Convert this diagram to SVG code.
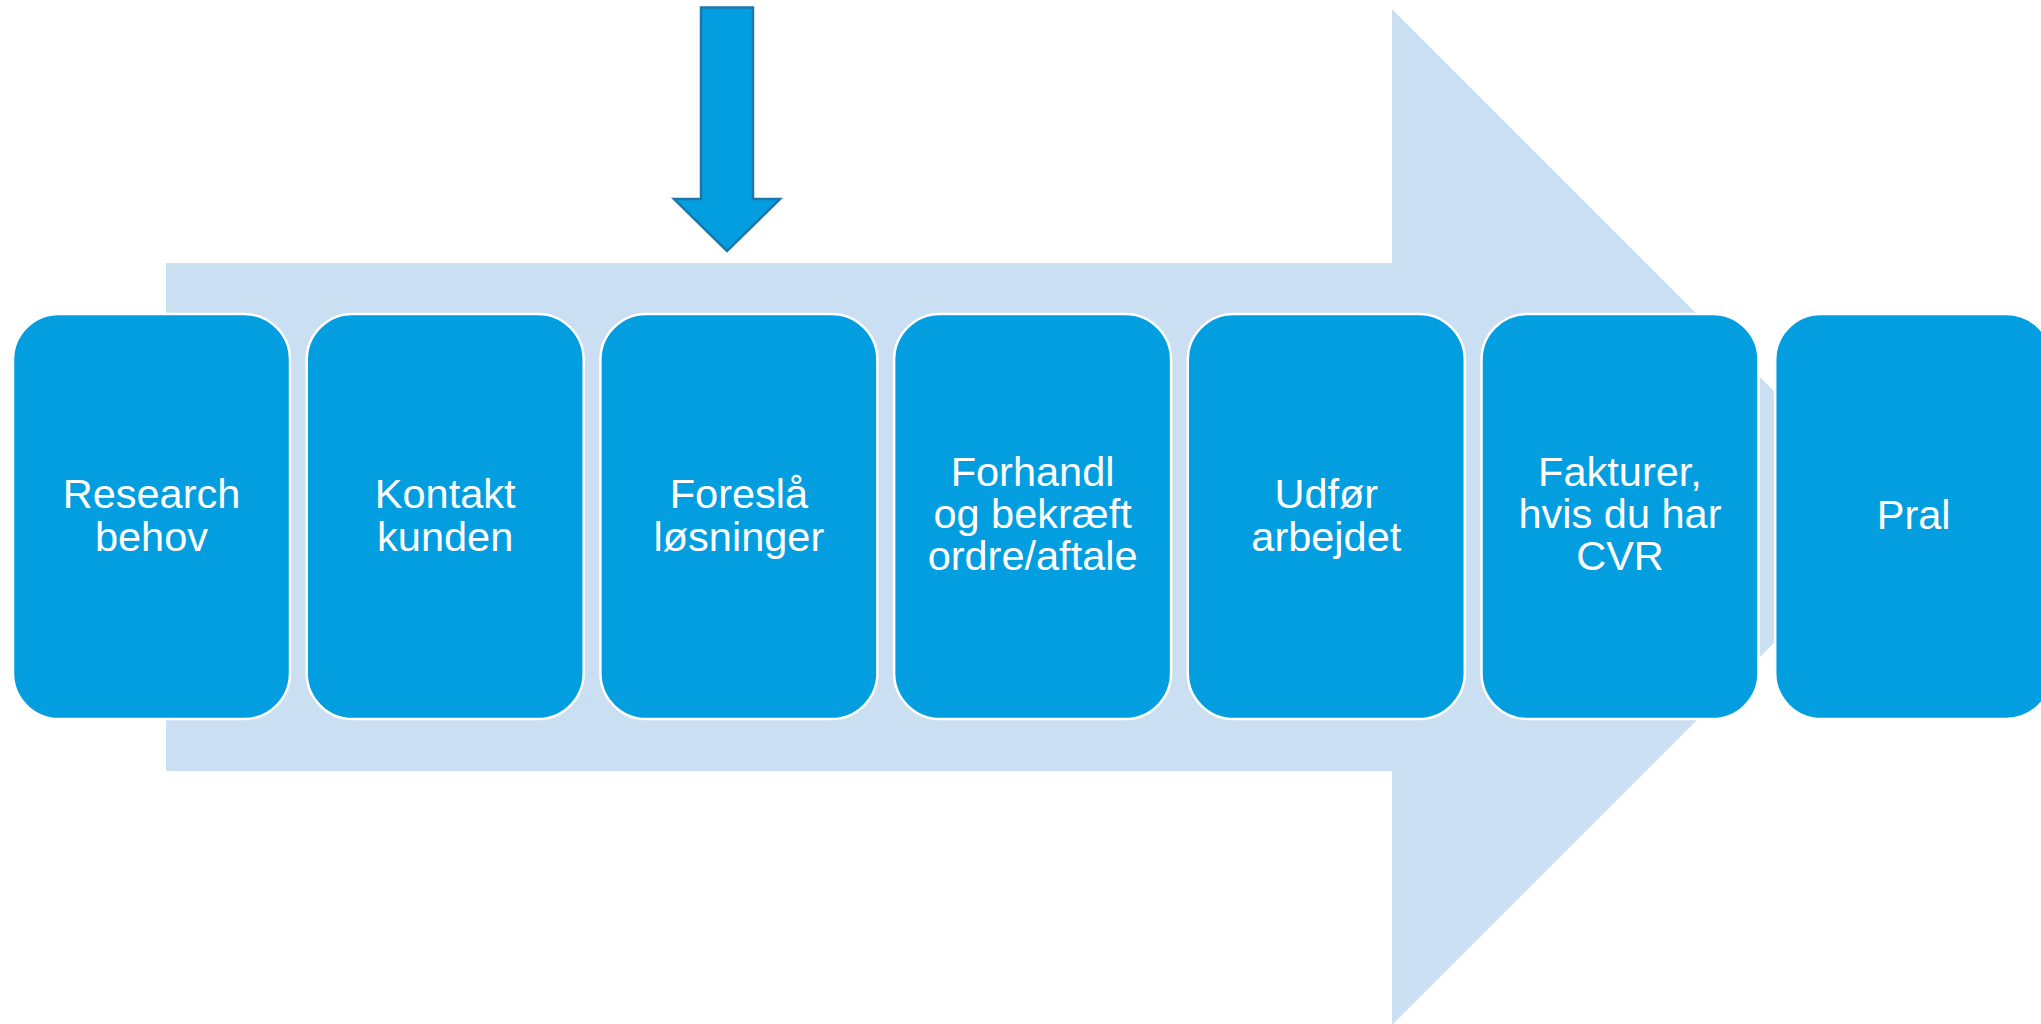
<svg xmlns="http://www.w3.org/2000/svg" width="2041" height="1024" viewBox="0 0 2041 1024">
<style>
.bg{fill:#CBDFF2;}
.box{fill:#039EE0;stroke:#FFFFFF;stroke-width:2.5;}
.lbl{font-family:"Liberation Sans",Arial,sans-serif;font-size:41.5px;fill:#FFFFFF;text-anchor:middle;}
.down{fill:#039EE0;stroke:#1B77AC;stroke-width:2.5;}
</style>
<rect width="2041" height="1024" fill="#FFFFFF"/>
<g id="big-arrow">
<polygon class="bg" points="166,263 1392,263 1392,9 1900,517 1392,1025 1392,771 166,771"/>
</g>
<g id="connectors">
<polygon class="down" points="701,7.5 753,7.5 753,199 780,199 727,251 674,199 701,199"/>
</g>
<g id="n1">
<rect class="box" x="13" y="314" width="277" height="405" rx="46" ry="46"/>
<text class="lbl" x="151.5" y="507.7">Research</text>
<text class="lbl" x="151.5" y="550.7">behov</text>
</g>
<g id="n2">
<rect class="box" x="306.7" y="314" width="277" height="405" rx="46" ry="46"/>
<text class="lbl" x="445.2" y="507.7">Kontakt</text>
<text class="lbl" x="445.2" y="550.7">kunden</text>
</g>
<g id="n3">
<rect class="box" x="600.4" y="314" width="277" height="405" rx="46" ry="46"/>
<text class="lbl" x="738.9" y="507.7">Foreslå</text>
<text class="lbl" x="738.9" y="550.7">løsninger</text>
</g>
<g id="n4">
<rect class="box" x="894.1" y="314" width="277" height="405" rx="46" ry="46"/>
<text class="lbl" x="1032.6" y="485.7">Forhandl</text>
<text class="lbl" x="1032.6" y="528">og bekræft</text>
<text class="lbl" x="1032.6" y="570.3">ordre/aftale</text>
</g>
<g id="n5">
<rect class="box" x="1187.8" y="314" width="277" height="405" rx="46" ry="46"/>
<text class="lbl" x="1326.3" y="507.7">Udfør</text>
<text class="lbl" x="1326.3" y="550.7">arbejdet</text>
</g>
<g id="n6">
<rect class="box" x="1481.5" y="314" width="277" height="405" rx="46" ry="46"/>
<text class="lbl" x="1620" y="485.7">Fakturer,</text>
<text class="lbl" x="1620" y="528">hvis du har</text>
<text class="lbl" x="1620" y="570.3">CVR</text>
</g>
<g id="n7">
<rect class="box" x="1775.2" y="314" width="277" height="405" rx="46" ry="46"/>
<text class="lbl" x="1913.7" y="529">Pral</text>
</g>
</svg>
